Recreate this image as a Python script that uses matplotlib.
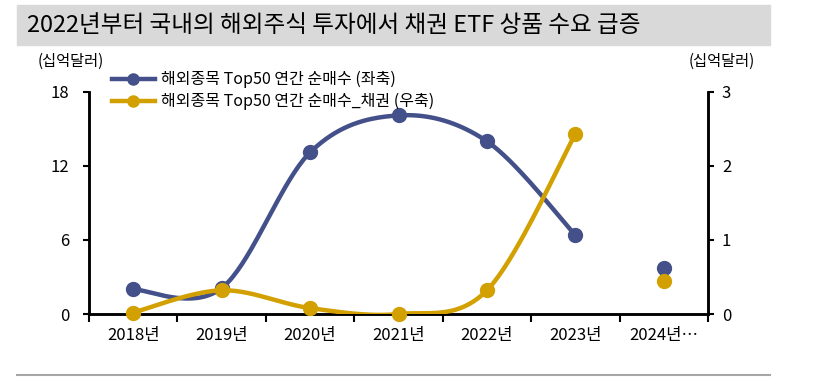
import numpy as np
import matplotlib
matplotlib.use("Agg")
from matplotlib import pyplot as plt
from matplotlib.patches import Rectangle
from matplotlib.lines import Line2D

plt.rcParams['font.family'] = ['Noto Sans CJK KR', 'DejaVu Sans']

years = ["2018년", "2019년", "2020년", "2021년", "2022년", "2023년", "2024년…"]
total = [2.0, 2.1, 13.1, 16.1, 14.0, 6.4, 3.7]      # 좌축
bonds = [0.02, 0.32, 0.08, 0.0, 0.32, 2.43, 0.45]   # 우축

BLUE = "#44508A"
GOLD = "#D2A000"


def smooth(xs, ys, n=40):
    # Excel 스타일 곡선 (bezier, 제어점 = 이웃 점 기울기/6)
    xs = np.asarray(xs, float)
    ys = np.asarray(ys, float)
    px, py = [], []
    for i in range(len(xs) - 1):
        i0 = max(i - 1, 0)
        i3 = min(i + 2, len(xs) - 1)
        c1x = xs[i] + (xs[i + 1] - xs[i0]) / 6
        c1y = ys[i] + (ys[i + 1] - ys[i0]) / 6
        c2x = xs[i + 1] - (xs[i3] - xs[i]) / 6
        c2y = ys[i + 1] - (ys[i3] - ys[i]) / 6
        t = np.linspace(0, 1, n)
        a, b, c, d = (1 - t) ** 3, 3 * (1 - t) ** 2 * t, 3 * (1 - t) * t ** 2, t ** 3
        px.extend(a * xs[i] + b * c1x + c * c2x + d * xs[i + 1])
        py.extend(a * ys[i] + b * c1y + c * c2y + d * ys[i + 1])
    return px, py


fig = plt.figure(figsize=(8.22, 3.77), dpi=100)
ax = fig.add_axes([0.1083, 0.1671, 0.8613 - 0.1083, 0.756 - 0.1671])
ax2 = ax.twinx()

x = np.arange(len(years))

# 선은 2023년까지, 2024년은 점만
sx, sy = smooth(x[:6], total[:6])
ax.plot(sx, sy, color=BLUE, lw=3.2, solid_capstyle='round', zorder=3)
ax.plot(x, total, 'o', color=BLUE, ms=10, zorder=4, clip_on=False)

bx, by = smooth(x[:6], bonds[:6])
ax2.plot(bx, by, color=GOLD, lw=3.2, solid_capstyle='round', zorder=3)
ax2.plot(x, bonds, 'o', color=GOLD, ms=10, zorder=4, clip_on=False)

ax.set_xlim(-0.5, len(years) - 0.5)
ax.set_ylim(0, 18)
ax2.set_ylim(0, 3)
ax.set_yticks([0, 6, 12, 18])
ax2.set_yticks([0, 1, 2, 3])

ax.set_xticks(np.arange(len(years) + 1) - 0.5)
ax.set_xticklabels([])
ax.set_xticks(x, minor=True)
ax.set_xticklabels(years, minor=True)
ax.tick_params(axis='x', which='major', length=6, width=1.5, direction='out')
ax.tick_params(axis='x', which='minor', length=0, labelsize=12, pad=9)
ax.tick_params(axis='y', length=4, width=1.5, labelsize=12, pad=10)
ax2.tick_params(axis='y', length=4, width=1.5, labelsize=12, pad=6)

for a in (ax, ax2):
    a.spines['top'].set_visible(False)
    for s in ('left', 'right', 'bottom'):
        a.spines[s].set_linewidth(1.8)

# 단위
fig.text(0.0855, 0.836, "(십억달러)", ha='center', va='center', fontsize=11)
fig.text(0.878, 0.836, "(십억달러)", ha='center', va='center', fontsize=11)

# 범례
handles = [Line2D([], [], color=BLUE, lw=3.2, marker='o', ms=8),
           Line2D([], [], color=GOLD, lw=3.2, marker='o', ms=8)]
fig.legend(handles, ["해외종목 Top50 연간 순매수 (좌축)", "해외종목 Top50 연간 순매수_채권 (우축)"],
           loc='upper left', bbox_to_anchor=(0.136, 0.812), frameon=False,
           fontsize=11.5, handlelength=2.7, handletextpad=0.35, labelspacing=0.3,
           borderaxespad=0, borderpad=0)

# 제목 상자
fig.patches.append(Rectangle((0.0207, 0.881), 0.916, 0.106, transform=fig.transFigure,
                             color='#D9D9D9', zorder=0))
fig.text(0.033, 0.932, "2022년부터 국내의 해외주식 투자에서 채권 ETF 상품 수요 급증",
         ha='left', va='center', fontsize=17, fontweight='medium')
fig.add_artist(Line2D([0.0207, 0.937], [0.006, 0.006], transform=fig.transFigure,
                      color='#A6A6A6', lw=1.5))

fig.savefig("out.png", dpi=100)
